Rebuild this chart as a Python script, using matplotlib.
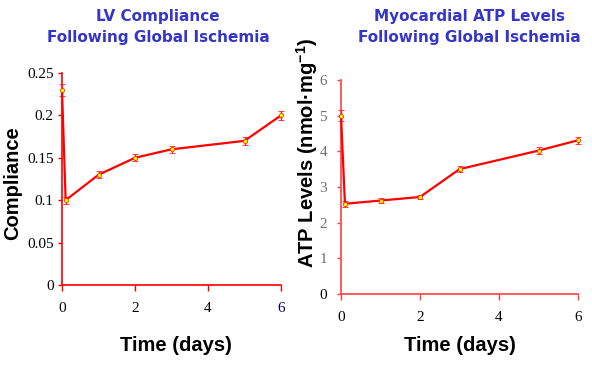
import matplotlib
matplotlib.use("Agg")
import matplotlib.pyplot as plt

# Data
days = [0, 0.1, 1, 2, 3, 5, 6]
compliance = [0.23, 0.10, 0.13, 0.15, 0.16, 0.17, 0.20]
compliance_err = [0.007, 0.004, 0.004, 0.004, 0.004, 0.005, 0.005]
atp = [5.0, 2.53, 2.62, 2.72, 3.5, 4.02, 4.31]
atp_err = [0.15, 0.08, 0.06, 0.06, 0.08, 0.1, 0.1]

left_yticks = [0, 0.05, 0.1, 0.15, 0.2, 0.25]
left_yticklabels = ["0", "0.05", "0.1", "0.15", "0.2", "0.25"]
right_yticks = [0, 1, 2, 3, 4, 5, 6]
xticks = [0, 2, 4, 6]

title_left = "LV Compliance\nFollowing Global Ischemia"
title_right = "Myocardial ATP Levels\nFollowing Global Ischemia"

W, H = 592, 365
fig = plt.figure(figsize=(W / 100, H / 100), dpi=100)
fig.patch.set_facecolor("white")

def frac_axes(x0, x1, ytop, ybot):
    return [x0 / W, 1 - ybot / H, (x1 - x0) / W, (ybot - ytop) / H]

ax1 = fig.add_axes(frac_axes(62, 281, 73, 285))
ax2 = fig.add_axes(frac_axes(341, 578, 80, 294))

serif = "Liberation Serif"
sans = "Liberation Sans"
title_color = "#3535C8"

def style(ax, spine_color):
    for s in ["top", "right"]:
        ax.spines[s].set_visible(False)
    for s in ["left", "bottom"]:
        ax.spines[s].set_color(spine_color)
        ax.spines[s].set_linewidth(1.2)
    ax.tick_params(axis="y", direction="out", length=3, width=1, color=spine_color, pad=3)
    ax.tick_params(axis="x", direction="out", length=4, width=1, color=spine_color, pad=8)
    ax.set_xlim(0, 6)
    ax.set_xticks(xticks)
    ax.set_xticklabels([str(t) for t in xticks], fontfamily=serif, fontsize=11)

def draw(ax, y, yerr):
    ax.errorbar(days, y, yerr=yerr, color="#FF0000", ecolor="#FF2020", lw=1.6,
                elinewidth=1.0, capsize=2.5, capthick=1.0,
                marker="o", ms=3, mfc="#FFFF00", mec="#FF3000", mew=0.6,
                clip_on=False, zorder=3)

# Left chart
draw(ax1, compliance, compliance_err)
style(ax1, "#FF0000")
ax1.set_ylim(0, 0.25)
ax1.set_yticks(left_yticks)
ax1.set_yticklabels(left_yticklabels, fontfamily=serif, fontsize=11)
ax1.get_xticklabels()[-1].set_color("#000066")
ax1.set_ylabel("Compliance", fontfamily=sans, fontweight="bold", fontsize=14.5)
ax1.yaxis.set_label_coords(-0.183, 0.48)
ax1.set_xlabel("Time (days)", fontfamily=sans, fontweight="bold", fontsize=14.5)
ax1.xaxis.set_label_coords(0.52, -0.24)

# Right chart
draw(ax2, atp, atp_err)
style(ax2, "#FF4040")
ax2.set_ylim(0, 6)
ax2.set_yticks(right_yticks)
ax2.set_yticklabels([str(t) for t in right_yticks], fontfamily=serif, fontsize=11)
for i, lab in enumerate(ax2.get_yticklabels()):
    lab.set_color("#000000" if i == 0 else "#707070")
ax2.tick_params(axis="y", pad=7)
ax2.set_ylabel("ATP Levels (nmol\u00b7mg$^{\\mathregular{-1}}$)", fontfamily=sans,
               fontweight="bold", fontsize=14.5)
ax2.yaxis.set_label_coords(-0.089, 0.66)
ax2.set_xlabel("Time (days)", fontfamily=sans, fontweight="bold", fontsize=14.5)
ax2.xaxis.set_label_coords(0.5, -0.196)

# Titles
fig.text(158 / W, 1 - 9 / H, title_left, ha="center", va="top", color=title_color,
         fontfamily="DejaVu Sans", fontweight="bold", fontsize=11, linespacing=1.5)
fig.text(469 / W, 1 - 9 / H, title_right, ha="center", va="top", color=title_color,
         fontfamily="DejaVu Sans", fontweight="bold", fontsize=11, linespacing=1.5)

fig.savefig("out.png", dpi=100, facecolor="white")
